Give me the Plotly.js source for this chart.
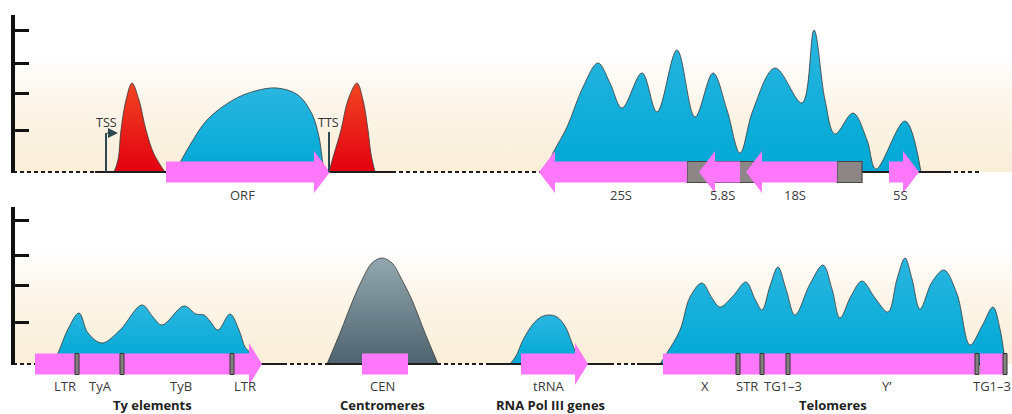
<!DOCTYPE html>
<html><head><meta charset="utf-8">
<script src="https://cdn.plot.ly/plotly-3.0.1.min.js"></script>
<style>html,body{margin:0;padding:0;background:#fff;}#chart{width:1012px;height:414px;}</style>
</head><body><div id="chart"></div>
<script>
// ================= DATA =================
// --- top track: RNA Pol II genes (heights above chromosome line) ---
const tssPeakX = [114,118,121,126,132,139,146,154,165];
const tssPeakH = [0,12,42,72,89,72,42,18,0];
const orfX = [175,190,207,233,255,277,298,312,319,323,325];
const orfH = [0,27,52,72,81,84,77,58,35,8,0];
const ttsPeakX = [329,334,341,348,357,363,368,371,375];
const ttsPeakH = [0,18,42,72,89,72,42,18,0];
// --- top track: rDNA ---
const rdnaX = [545,553,567,583,598,610,622,642,657,677,695,713,727,740,753,775,802,814,825,835,853,867,876,905,921];
const rdnaH = [0,19,45,85,109,89,64,99,60,122,55,99,62,19,62,104,69,142,72,38,59,32,3,51,0];
// --- bottom track ---
const tyX = [52,58,68,79,88,102,120,142,153,162,184,196,204,210,218,230,239,245,250,253];
const tyH = [0,11,35,51,31,21,34,59,47,39,58,50,49,43,34,50,34,17,11,0];
const cenX = [327,340,353,362,372,382,392,402,412,425,438];
const cenH = [0,31,64,84,101,106,101,84,64,31,0];
const trnaX = [510,516,523,533,541,549,557,565,572,580];
const trnaH = [0,8,24,40,47,49,47,38,21,0];
const telX = [660,667,680,690,702,712,720,733,746,755,762,770,778,786,795,810,823,832,840,851,862,875,888,897,905,912,920,932,944,957,970,982,993,1000,1004,1006];
const telH = [0,11,34,67,81,66,57,68,82,65,54,78,97,75,49,80,99,75,46,68,83,66,52,85,106,85,55,82,94,70,19,38,57,35,11,0];

// --- annotated features ---
const topArrowNames = ['ORF','25S','5.8S','18S','5S'];
const topArrowStart = [166,687,740,837,889];
const topArrowEnd   = [330,539,699,746,919];
const topLabelX     = [242,621,722,795,900];
const spacerStart = [687,837];
const spacerEnd   = [757,862];

const botBoxNames = ['LTR','TyA','TyB','CEN','X','STR','TG1–3','Y’','TG1–3'];
const botBoxStart = [35,79,124,362,663,740,764,790,980];
const botBoxEnd   = [75,120,230,408,736,760,786,975,1003];
const botArrowNames = ['LTR','tRNA'];
const botArrowStart = [234,521];
const botArrowEnd   = [262,588];
const junctions = [75,120,230,736,760,786,975,1003];
const botLabelNames = ['LTR','TyA','TyB','LTR','CEN','tRNA','X','STR','TG1–3','Y’','TG1–3'];
const botLabelX = [65,100,181,245,382,548,705,747,783,887,992];

const groupTitles = ['RNA Pol II genes','rDNA','Ty elements','Centromeres','RNA Pol III genes','Telomeres'];
const groupTitleX = [243,722,152,382,550,833];
const groupPanel  = ['top','top','bottom','bottom','bottom','bottom'];

const topTicks = [42,79,109,142];
const botTicks = [42,79,109,144];

// chromosome line segments
const topSolid  = [[95,392],[540,947]];
const topDashed = [[13,95],[392,540],[947,980]];
const botSolid  = [[35,283],[327,437],[490,610],[637,1006]];
const botDashed = [[13,35],[283,327],[437,490],[610,637]];

// ================= STYLE =================
const PINK = '#ff78fb';
const BODY = 10.5, HEAD = 21;
const blueScale = [[0,'#00a8d5'],[1,'#2ab6e0']];
const redScale  = [[0,'#e30010'],[1,'#f04522']];
const greyScale = [[0,'#4d636d'],[1,'#93a7b0']];
const bandScale = [[0,'#f9eed8'],[0.6,'#fcf5e9'],[1,'#ffffff']];

const traces = [];
function band(ya, top){
  traces.push({x:[13,1012,1012,13,13], y:[0,0,top,top,0], yaxis:ya, mode:'lines', fill:'toself',
    line:{width:0}, fillgradient:{type:'vertical', colorscale:bandScale, start:0, stop:top},
    hoverinfo:'skip', showlegend:false});
}
function profile(xs, hs, ya, scale){
  const mx = Math.max(...hs);
  traces.push({x:xs, y:hs, yaxis:ya, mode:'lines', fill:'tozeroy',
    line:{shape:'spline', smoothing:1, color:'#3a3a3a', width:0.8},
    fillgradient:{type:'vertical', colorscale:scale, start:0, stop:mx},
    hoverinfo:'skip', showlegend:false});
}
function segs(list, ya, dash){
  const x=[], y=[];
  list.forEach(s=>{x.push(s[0],s[1],null); y.push(0,0,null);});
  traces.push({x, y, yaxis:ya, mode:'lines', line:{color:'#1e1e1e', width:2.2, dash:dash},
    hoverinfo:'skip', showlegend:false});
}
function arrow(s, e, ya, headLen){
  const d = Math.sign(e - s), hb = e - d*headLen;
  traces.push({x:[s,hb,hb,e,hb,hb,s,s], y:[BODY,BODY,HEAD,0,-HEAD,-BODY,-BODY,BODY], yaxis:ya,
    mode:'lines', fill:'toself', fillcolor:PINK, line:{width:0}, hoverinfo:'skip', showlegend:false});
}
function box(s, e, ya, fill, lc, lw){
  traces.push({x:[s,e,e,s,s], y:[BODY,BODY,-BODY,-BODY,BODY], yaxis:ya, mode:'lines', fill:'toself',
    fillcolor:fill, line:{width:lw, color:lc}, hoverinfo:'skip', showlegend:false});
}

// ---- top panel ----
band('y', 115);
profile(tssPeakX, tssPeakH, 'y', redScale);
profile(ttsPeakX, ttsPeakH, 'y', redScale);
profile(orfX, orfH, 'y', blueScale);
profile(rdnaX, rdnaH, 'y', blueScale);
segs(topSolid, 'y', 'solid');
segs(topDashed, 'y', '4px,3px');
spacerStart.forEach((s,i)=>box(s, spacerEnd[i], 'y', '#8d8686', '#4a4545', 1.2));
topArrowStart.forEach((s,i)=>arrow(s, topArrowEnd[i], 'y', 16));

// ---- bottom panel ----
band('y2', 114);
profile(tyX, tyH, 'y2', blueScale);
profile(cenX, cenH, 'y2', greyScale);
profile(trnaX, trnaH, 'y2', blueScale);
profile(telX, telH, 'y2', blueScale);
segs(botSolid, 'y2', 'solid');
segs(botDashed, 'y2', '4px,3px');
botBoxStart.forEach((s,i)=>box(s, botBoxEnd[i], 'y2', PINK, PINK, 0));
botArrowStart.forEach((s,i)=>arrow(s, botArrowEnd[i], 'y2', 13));
junctions.forEach(j=>box(j, j+4, 'y2', '#858080', '#333', 1));

// ---- text ----
const F = 'Open Sans, Lato, sans-serif';
const ann = [];
topArrowNames.forEach((t,i)=>ann.push({x:topLabelX[i], y:-23, xref:'x', yref:'y', text:t, showarrow:false,
  font:{family:F, size:13, color:'#3b3b3b'}}));
botLabelNames.forEach((t,i)=>ann.push({x:botLabelX[i], y:-22, xref:'x', yref:'y2', text:t, showarrow:false,
  font:{family:F, size:13, color:'#3b3b3b'}}));
groupTitles.forEach((t,i)=>ann.push({x:groupTitleX[i], y:groupPanel[i]==='top' ? -47 : -41, xref:'x',
  yref:groupPanel[i]==='top' ? 'y' : 'y2', text:'<b>'+t+'</b>', showarrow:false,
  font:{family:F, size:13, color:'#222'}}));
ann.push({x:106, y:50, xref:'x', yref:'y', text:'TSS', showarrow:false, font:{family:F, size:12.5, color:'#333'}});
ann.push({x:328, y:50, xref:'x', yref:'y', text:'TTS', showarrow:false, font:{family:F, size:12.5, color:'#333'}});
ann.push({x:118, y:39, ax:106, ay:39, xref:'x', yref:'y', axref:'x', ayref:'y', text:'', showarrow:true,
  arrowhead:2, arrowsize:1, arrowwidth:2, arrowcolor:'#2e4850'});

const shapes = [
  {type:'line', xref:'x', yref:'y', x0:106, x1:106, y0:0, y1:39, line:{color:'#2e4850', width:2}},
  {type:'line', xref:'x', yref:'y', x0:329, x1:329, y0:0, y1:40, line:{color:'#2e4850', width:2}},
  {type:'line', xref:'x', yref:'y', x0:13, x1:13, y0:-1, y1:157, line:{color:'#111', width:4}},
  {type:'line', xref:'x', yref:'y2', x0:13, x1:13, y0:-1, y1:157, line:{color:'#111', width:4}}
];

const yCommon = {showgrid:false, zeroline:false, showline:false, ticks:'inside', ticklen:15, tickwidth:3,
  tickcolor:'#111', showticklabels:false, anchor:'free', position:13/1012, fixedrange:true};

const layout = {
  width:1012, height:414, margin:{l:0,r:0,t:0,b:0}, paper_bgcolor:'#fff', plot_bgcolor:'rgba(0,0,0,0)',
  showlegend:false,
  xaxis:{range:[0,1012], visible:false, fixedrange:true},
  yaxis:Object.assign({domain:[214/414,1], range:[-28,172], tickvals:topTicks}, yCommon),
  yaxis2:Object.assign({domain:[0,214/414], range:[-50,164], tickvals:botTicks}, yCommon),
  annotations:ann, shapes:shapes
};
Plotly.newPlot('chart', traces, layout, {staticPlot:true, displayModeBar:false});
</script></body></html>
